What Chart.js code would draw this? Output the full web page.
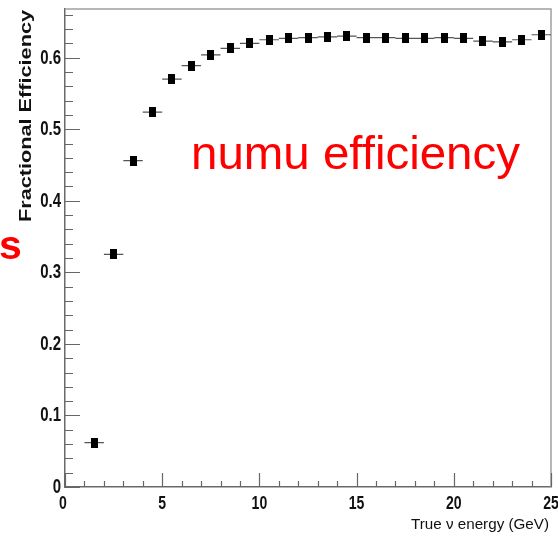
<!DOCTYPE html>
<html>
<head>
<meta charset="utf-8">
<script src="https://cdn.jsdelivr.net/npm/chart.js@4.4.1/dist/chart.umd.min.js"></script>
<style>
  html, body { margin: 0; padding: 0; background: #ffffff; overflow: hidden; }
  #wrap { width: 558px; height: 539px; position: relative; }
</style>
</head>
<body>
<div id="wrap"><canvas id="c"></canvas></div>
<script>
// ---- data ----
const energyGeV = [1.5, 2.5, 3.5, 4.5, 5.5, 6.5, 7.5, 8.5, 9.5, 10.5, 11.5, 12.5,
                   13.5, 14.5, 15.5, 16.5, 17.5, 18.5, 19.5, 20.5, 21.5, 22.5, 23.5, 24.5];
const efficiency = [0.062, 0.325, 0.456, 0.524, 0.570, 0.589, 0.604, 0.613, 0.620, 0.625, 0.627, 0.628,
                    0.629, 0.630, 0.628, 0.628, 0.627, 0.627, 0.628, 0.627, 0.623, 0.622, 0.625, 0.632];
const binHalfWidth = 0.5;
const xTickLabels = ['0', '5', '10', '15', '20', '25'];
const yTickLabels = ['0', '0.1', '0.2', '0.3', '0.4', '0.5', '0.6'];
const xTitle = 'True \u03BD energy (GeV)';
const yTitle = 'Fractional Efficiency';
const annotation = 'numu efficiency';
const edgeText = 's';

// ---- marker: small filled black rectangle ----
const marker = document.createElement('canvas');
marker.width = 7; marker.height = 10;
(function () { const m = marker.getContext('2d'); m.fillStyle = '#000'; m.fillRect(0, 0, 7, 10); })();

function labelFor(list, v, mult) {
  const k = Math.round(v * mult);
  if (Math.abs(v * mult - k) > 1e-6) return '';
  return list[k] !== undefined ? list[k] : '';
}

const rootStyle = {
  id: 'rootStyle',
  beforeDraw(chart) {
    const ctx = chart.ctx;
    ctx.save();
    ctx.fillStyle = '#ffffff';
    ctx.fillRect(0, 0, chart.width, chart.height);
    ctx.restore();
  },
  beforeDatasetsDraw(chart) {
    const { ctx, chartArea: a, scales: { x, y } } = chart;
    ctx.save();
    // frame (top/right)
    ctx.strokeStyle = '#a0a0a0';
    ctx.lineWidth = 1.5;
    ctx.beginPath();
    ctx.moveTo(a.left, a.top); ctx.lineTo(a.right, a.top); ctx.lineTo(a.right, a.bottom);
    ctx.stroke();
    // inward ticks
    ctx.strokeStyle = '#666';
    ctx.lineWidth = 1.2;
    ctx.beginPath();
    for (let i = 0; i <= 33; i++) {
      const v = i * 0.02;
      if (v > y.max) break;
      const py = Math.round(y.getPixelForValue(v)) + 0.5;
      const len = (i % 5 === 0) ? 15 : 8;
      ctx.moveTo(a.left, py); ctx.lineTo(a.left + len, py);
    }
    for (let i = 0; i <= 25; i++) {
      const px = Math.round(x.getPixelForValue(i)) + 0.5;
      const len = (i % 5 === 0) ? 14 : 6;
      ctx.moveTo(px, a.bottom); ctx.lineTo(px, a.bottom - len);
    }
    ctx.stroke();
    // horizontal bin-width bars
    ctx.strokeStyle = '#555';
    ctx.lineWidth = 1.2;
    ctx.beginPath();
    for (let i = 0; i < energyGeV.length; i++) {
      const py = y.getPixelForValue(efficiency[i]);
      ctx.moveTo(x.getPixelForValue(energyGeV[i] - binHalfWidth), py);
      ctx.lineTo(x.getPixelForValue(energyGeV[i] + binHalfWidth), py);
    }
    ctx.stroke();
    ctx.restore();
  },
  afterDraw(chart) {
    const { ctx, chartArea: a, scales: { x, y } } = chart;
    ctx.save();
    // tick labels (narrow bold, from the scales' own ticks)
    ctx.fillStyle = '#111';
    ctx.font = "bold 20px 'Liberation Sans', Arial, sans-serif";
    ctx.textBaseline = 'middle';
    y.ticks.forEach(t => {
      const s = labelFor(yTickLabels, t.value, 10);
      if (!s) return;
      ctx.save();
      ctx.translate(a.left - 4, y.getPixelForValue(t.value) + 0.5);
      ctx.scale(0.75, 1);
      ctx.textAlign = 'right';
      ctx.fillText(s, 0, 0);
      ctx.restore();
    });
    ctx.font = "bold 18px 'Liberation Sans', Arial, sans-serif";
    ctx.textBaseline = 'alphabetic';
    x.ticks.forEach(t => {
      const s = labelFor(xTickLabels, t.value, 0.2);
      if (!s) return;
      ctx.save();
      ctx.translate(x.getPixelForValue(t.value) - (t.value === 0 ? 2 : 0), 509);
      ctx.scale(0.78, 1);
      ctx.textAlign = 'center';
      ctx.fillText(s, 0, 0);
      ctx.restore();
    });
    // red annotation
    ctx.fillStyle = '#ff0000';
    ctx.font = "46px 'Liberation Sans', Arial, sans-serif";
    ctx.textBaseline = 'alphabetic';
    ctx.textAlign = 'left';
    let w = ctx.measureText(annotation).width;
    ctx.save();
    ctx.translate(191, 168.5);
    ctx.scale(329 / w, 1);
    ctx.fillText(annotation, 0, 0);
    ctx.restore();
    // cut-off red "s" at the left edge
    ctx.font = "bold 41px 'Liberation Sans', Arial, sans-serif";
    ctx.fillText(edgeText, -1, 259);
    // y title
    ctx.fillStyle = '#111';
    ctx.font = "bold 17px 'Liberation Sans', Arial, sans-serif";
    w = ctx.measureText(yTitle).width;
    ctx.save();
    ctx.translate(30.5, 10);
    ctx.rotate(-Math.PI / 2);
    ctx.textAlign = 'right';
    ctx.scale(212 / w, 1);
    ctx.fillText(yTitle, 0, 0);
    ctx.restore();
    // x title
    ctx.font = "15px 'Liberation Sans', Arial, sans-serif";
    w = ctx.measureText(xTitle).width;
    ctx.save();
    ctx.translate(549, 528.5);
    ctx.scale(138 / w, 1);
    ctx.textAlign = 'right';
    ctx.fillText(xTitle, 0, 0);
    ctx.restore();
    ctx.restore();
  }
};

new Chart(document.getElementById('c'), {
  type: 'scatter',
  data: {
    datasets: [{
      data: energyGeV.map((e, i) => ({ x: e, y: efficiency[i] })),
      pointStyle: marker,
      pointRadius: 5,
      backgroundColor: '#000',
      borderColor: '#000',
      showLine: false
    }]
  },
  options: {
    responsive: true,
    maintainAspectRatio: false,
    animation: false,
    devicePixelRatio: 1,
    layout: { padding: { top: 9, right: 7, left: 0, bottom: 0 } },
    plugins: { legend: { display: false }, tooltip: { enabled: false } },
    scales: {
      x: {
        type: 'linear', min: 0, max: 25,
        afterFit(s) { s.height = 52; s.paddingLeft = 0; s.paddingRight = 0; },
        grid: { display: false, drawTicks: false },
        border: { display: true, color: '#6a6a6a', width: 1.5 },
        ticks: { display: false, stepSize: 5, includeBounds: false, autoSkip: false }
      },
      y: {
        type: 'linear', min: 0, max: 0.668,
        afterFit(s) { s.width = 65; s.paddingTop = 0; s.paddingBottom = 0; },
        grid: { display: false, drawTicks: false },
        border: { display: true, color: '#6a6a6a', width: 1.5 },
        ticks: { display: false, stepSize: 0.1, includeBounds: false, autoSkip: false }
      }
    }
  },
  plugins: [rootStyle]
});
</script>
</body>
</html>
